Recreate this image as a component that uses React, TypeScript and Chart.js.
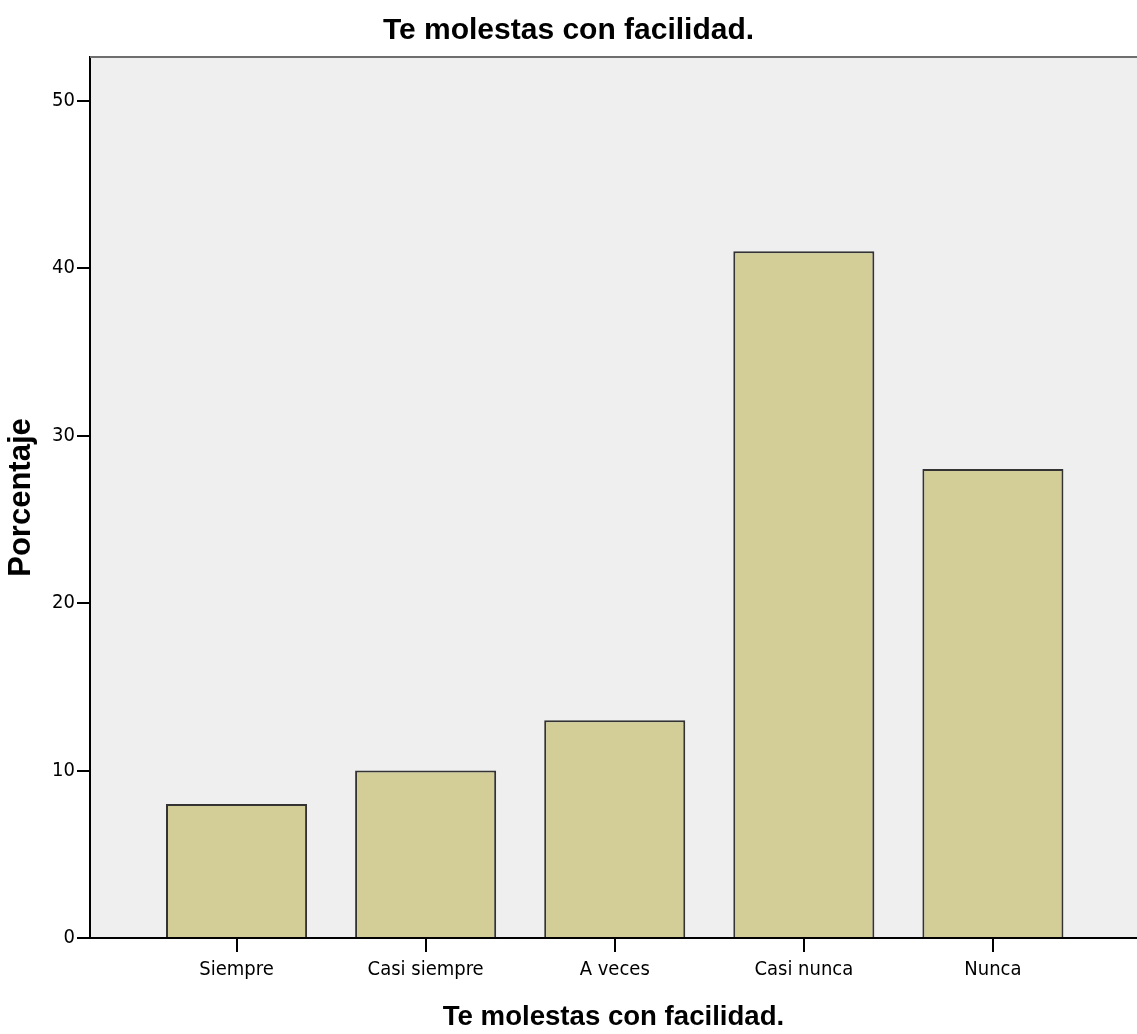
import React, { useEffect, useRef } from "react";
import { Chart, registerables } from "chart.js";

Chart.register(...registerables);

const chartTitle = "Te molestas con facilidad.";
const xAxisTitle = "Te molestas con facilidad.";
const yAxisTitle = "Porcentaje";
const categories = ["Siempre", "Casi siempre", "A veces", "Casi nunca", "Nunca"];
const percentages = [8, 10, 13, 41, 28];
const yTickValues = [0, 10, 20, 30, 40, 50];

const NARROW = "'Liberation Sans Narrow', 'Arial Narrow', 'DejaVu Sans Condensed', sans-serif";
const SANS = "'Liberation Sans', Arial, sans-serif";

export default function App() {
  const ref = useRef<HTMLCanvasElement>(null);

  useEffect(() => {
    document.body.style.margin = "0";
    document.body.style.background = "#ffffff";
    const canvas = ref.current!;

    const plotFrame = {
      id: "plotFrame",
      beforeDraw(chart: any) {
        const { ctx, chartArea: a } = chart;
        ctx.save();
        ctx.fillStyle = "#efefef";
        ctx.fillRect(a.left, a.top, a.right - a.left, a.bottom - a.top);
        ctx.restore();
      },
      afterDraw(chart: any) {
        const { ctx, chartArea: a } = chart;
        ctx.save();
        ctx.strokeStyle = "#6e6e6e";
        ctx.lineWidth = 2;
        ctx.beginPath();
        ctx.moveTo(a.left, a.top);
        ctx.lineTo(a.right, a.top);
        ctx.stroke();
        ctx.restore();
      },
    };

    const chart = new Chart(canvas, {
      type: "bar",
      data: {
        datasets: [
          {
            data: categories.map((c, i) => ({ x: i + 1, y: percentages[i] })),
            backgroundColor: "#d3ce97",
            borderColor: "#333333",
            borderWidth: 2,
            barPercentage: 0.746,
            categoryPercentage: 1,
          },
        ],
      },
      options: {
        responsive: false,
        animation: false,
        layout: { padding: 0 },
        plugins: {
          legend: { display: false },
          tooltip: { enabled: false },
          title: {
            display: true,
            text: chartTitle,
            color: "#000",
            font: { family: SANS, size: 30, weight: "bold", lineHeight: 1.2 },
            padding: { top: 13, bottom: 8 },
          },
        },
        scales: {
          x: {
            type: "linear",
            offset: false,
            min: 0.225,
            max: 5.762,
            afterBuildTicks: (s: any) => {
              s.ticks = categories.map((_, i) => ({ value: i + 1 }));
            },
            afterFit: (s: any) => {
              s.height = 96;
            },
            ticks: {
              callback: (v: any) => categories[Number(v) - 1] ?? "",
              autoSkip: false,
              maxRotation: 0,
              padding: 6,
              color: "#000",
              font: { family: NARROW, size: 20 },
            },
            grid: {
              offset: false,
              drawOnChartArea: false,
              drawTicks: true,
              tickLength: 14,
              color: "#000",
              lineWidth: 2,
            },
            border: { display: true, color: "#000", width: 2 },
            title: {
              display: true,
              text: xAxisTitle,
              color: "#000",
              font: { family: SANS, size: 27.6, weight: "bold", lineHeight: 1.2 },
              padding: { top: 0, bottom: 0 },
            },
          },
          y: {
            type: "linear",
            min: 0,
            max: 52.6,
            afterBuildTicks: (s: any) => {
              s.ticks = yTickValues.map((v) => ({ value: v }));
            },
            afterFit: (s: any) => {
              s.width = 90;
            },
            ticks: {
              padding: 2,
              color: "#000",
              font: { family: NARROW, size: 20 },
            },
            grid: {
              drawOnChartArea: false,
              drawTicks: true,
              tickLength: 13,
              color: "#000",
              lineWidth: 2,
            },
            border: { display: true, color: "#000", width: 2 },
            title: {
              display: true,
              text: yAxisTitle,
              color: "#000",
              font: { family: SANS, size: 31, weight: "bold", lineHeight: 1.2 },
              padding: { top: 3, bottom: 0 },
            },
          },
        },
      },
      plugins: [plotFrame],
    } as any);

    return () => chart.destroy();
  }, []);

  return (
    <div style={{ width: 1137, height: 1034, overflow: "hidden" }}>
      <canvas ref={ref} width={1137} height={1034} style={{ display: "block" }} />
    </div>
  );
}
